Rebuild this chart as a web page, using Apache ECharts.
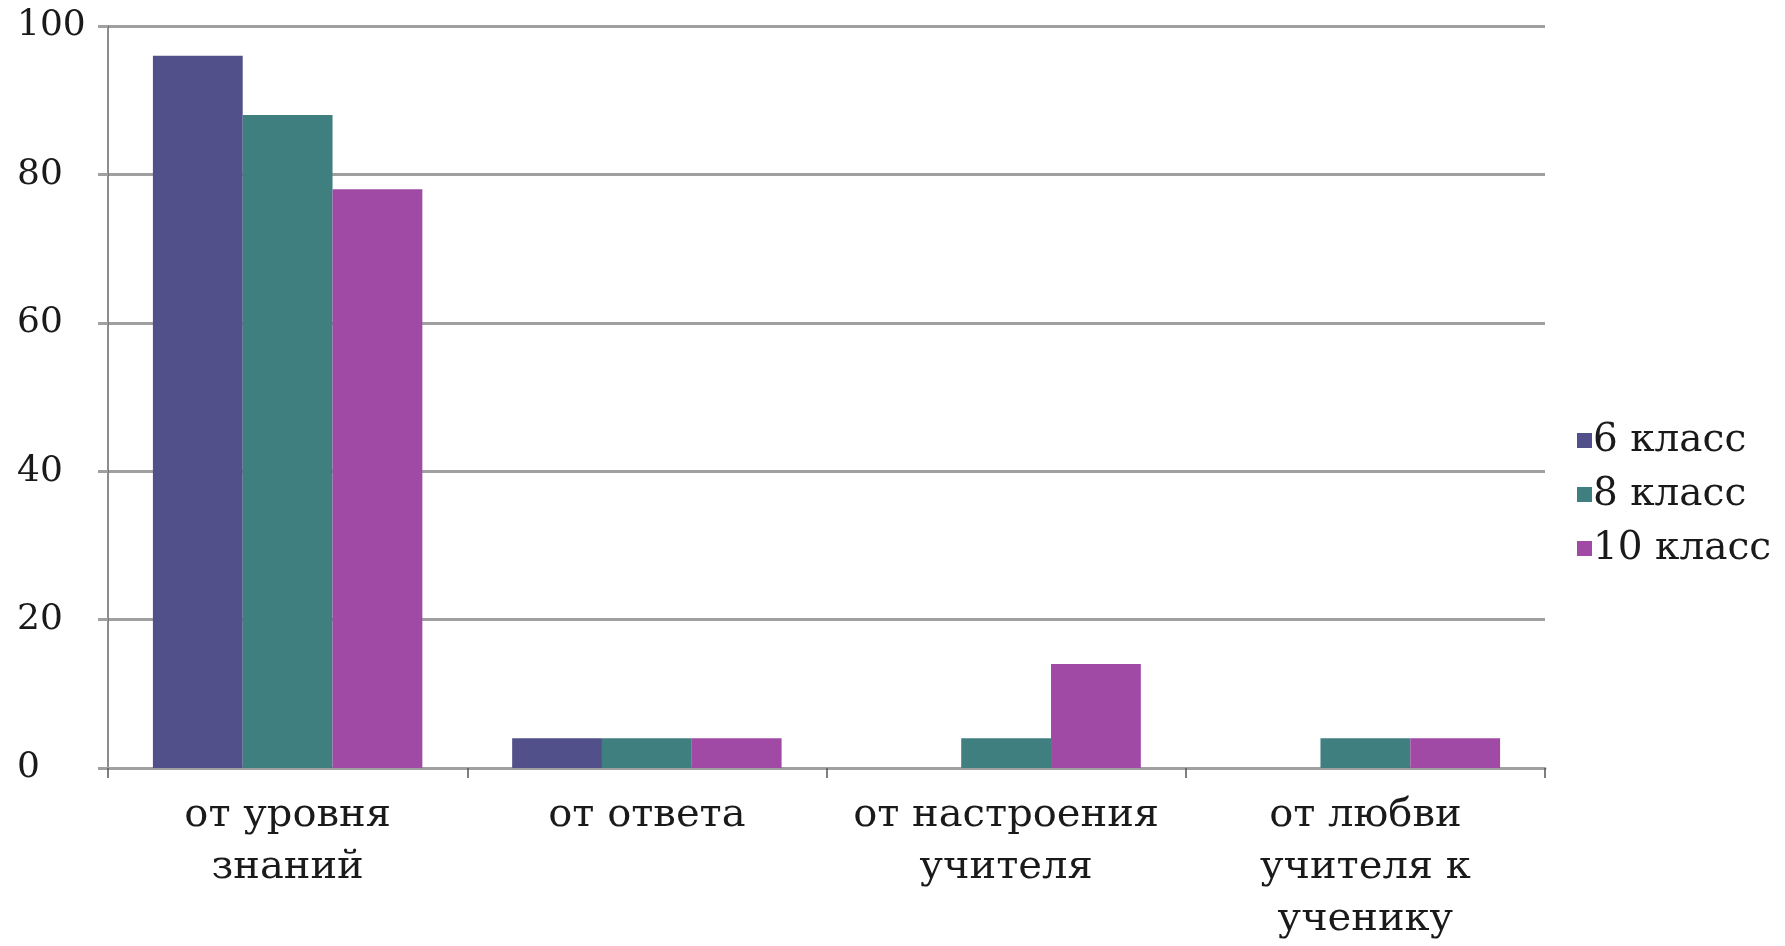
<!DOCTYPE html>
<html>
<head>
<meta charset="utf-8">
<script src="https://cdn.jsdelivr.net/npm/echarts@6/dist/echarts.min.js"></script>
<style>
html,body{margin:0;padding:0;background:#fff;}
#chart{width:1785px;height:946px;}
</style>
</head>
<body>
<div id="chart"></div>
<script>
const categories = ["от уровня\nзнаний", "от ответа", "от настроения\nучителя", "от любви\nучителя к\nученику"];
const seriesNames = ["6 класс", "8 класс", "10 класс"];
const class6 = [96, 4, 0, 0];
const class8 = [88, 4, 4, 4];
const class10 = [78, 4, 14, 4];
const yTicks = [0, 20, 40, 60, 80, 100];

const colors = ["#52508a", "#3f7f80", "#a04aa6"];
const font = "DejaVu Serif";
const gridLine = { color: "#a0a0a0", width: 3 };

const chart = echarts.init(document.getElementById("chart"), null, { renderer: "canvas" });
const values = [class6, class8, class10];
chart.setOption({
  animation: false,
  backgroundColor: "#ffffff",
  color: colors,
  grid: { left: 108, right: 240, top: 26, bottom: 173, containLabel: false },
  legend: {
    orient: "vertical",
    left: 1572,
    top: 413,
    itemWidth: 15,
    itemHeight: 15,
    itemGap: 9,
    icon: "rect",
    textStyle: { fontFamily: font, fontSize: 39, color: "#1a1a1a", lineHeight: 45, padding: [0, 0, 0, -4] },
    data: seriesNames
  },
  xAxis: {
    type: "category",
    data: categories,
    axisLine: { lineStyle: gridLine },
    axisTick: { show: true, alignWithLabel: false, length: 10, lineStyle: { color: "#555", width: 1.5 } },
    axisLabel: { fontFamily: font, fontSize: 40, color: "#1a1a1a", lineHeight: 52, margin: 22, interval: 0 }
  },
  yAxis: {
    type: "value",
    min: 0,
    max: 100,
    interval: 20,
    axisLine: { show: true, lineStyle: { color: "#666", width: 1.5 } },
    axisTick: { show: true, length: 10, lineStyle: gridLine },
    splitLine: { show: true, lineStyle: gridLine },
    axisLabel: {
      fontFamily: font, fontSize: 36, color: "#1a1a1a", align: "left", margin: 91,
      padding: [14, 0, 0, 0],
      formatter: v => yTicks.includes(v) ? String(v) : ""
    }
  },
  series: values.map((d, i) => ({
    name: seriesNames[i],
    type: "bar",
    data: d,
    barGap: "0%",
    barCategoryGap: "25%",
    itemStyle: { color: colors[i] }
  }))
});
</script>
</body>
</html>
